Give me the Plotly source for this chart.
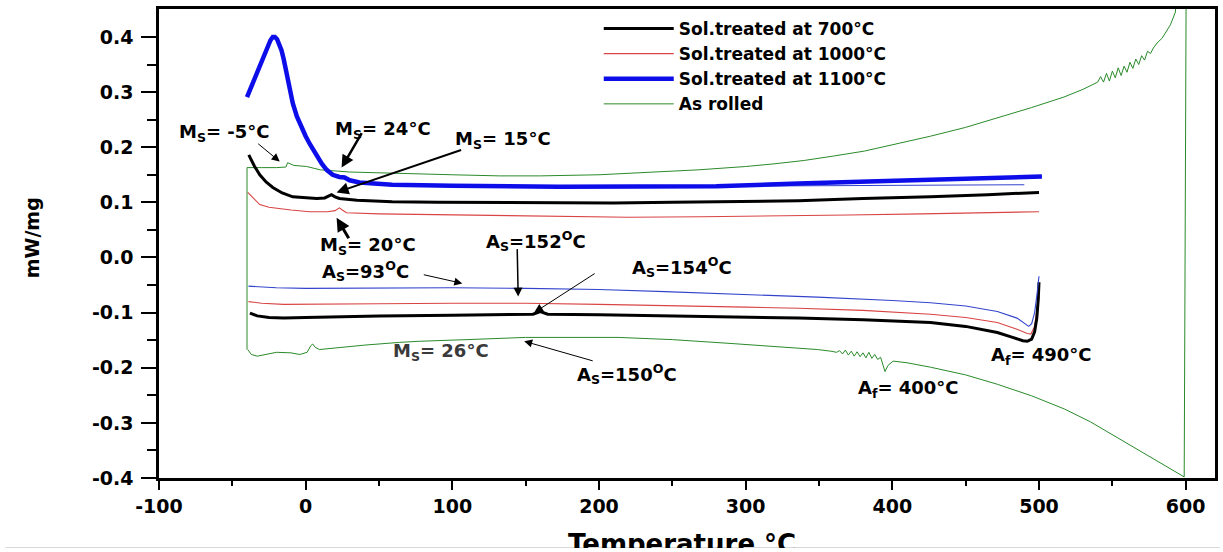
import plotly.graph_objects as go

# ---------------- data ----------------
# Sol. treated at 700 °C
T700_cool = [-38.8, -35, -31.3, -27, -22.4, -16, -8.8, 0, 7.5, 13, 17.6, 20, 23, 35, 59, 90, 127, 170, 210, 250, 290, 336, 380, 426, 465, 500]
Q700_cool = [0.186, 0.166, 0.150, 0.137, 0.127, 0.117, 0.110, 0.108, 0.107, 0.108, 0.114, 0.110, 0.107, 0.104, 0.101, 0.100, 0.0995, 0.099, 0.099, 0.100, 0.101, 0.103, 0.107, 0.110, 0.114, 0.118]
T700_heat = [-38, -33, -25, -15, 0, 25, 50, 100, 140, 155, 160, 165, 200, 250, 300, 336, 380, 426, 450, 471.6, 482, 489, 492, 495, 497, 498.5, 499.5, 500]
Q700_heat = [-0.101, -0.106, -0.109, -0.110, -0.109, -0.107, -0.106, -0.105, -0.103, -0.103, -0.098, -0.103, -0.104, -0.106, -0.109, -0.110, -0.113, -0.118, -0.125, -0.136, -0.145, -0.151, -0.152, -0.148, -0.135, -0.110, -0.075, -0.045]

# Sol. treated at 1000 °C
T1000_cool = [-39.5, -35, -31.3, -25, -20, -10, 2.7, 15, 20, 23, 25, 27.8, 50, 82, 130, 172.7, 220, 270, 320, 370, 420, 470, 500]
Q1000_cool = [0.118, 0.105, 0.096, 0.091, 0.089, 0.086, 0.083, 0.083, 0.085, 0.090, 0.086, 0.081, 0.079, 0.078, 0.076, 0.074, 0.073, 0.074, 0.075, 0.077, 0.079, 0.081, 0.083]
T1000_heat = [-39, -30, -15, 0, 50, 100, 150, 200, 250, 300, 336, 380, 426, 450, 471.6, 485, 492, 494.5, 497, 498.5, 500]
Q1000_heat = [-0.080, -0.083, -0.085, -0.085, -0.084, -0.083, -0.083, -0.085, -0.087, -0.090, -0.092, -0.096, -0.103, -0.109, -0.118, -0.130, -0.138, -0.139, -0.125, -0.100, -0.071]

# Sol. treated at 1100 °C
T1100_cool = [-40, -36, -31.3, -28, -26, -24, -22.4, -21, -19.5, -18, -16.5, -15, -13, -11, -8.8, -6, -3, 0, 3, 7.5, 11, 14.3, 18.4, 23, 26.5, 30, 36.7, 59, 100, 172.7, 230, 280, 336, 380, 426, 465, 502]
Q1100_cool = [0.291, 0.318, 0.346, 0.367, 0.382, 0.394, 0.400, 0.400, 0.396, 0.388, 0.376, 0.360, 0.335, 0.308, 0.280, 0.256, 0.236, 0.220, 0.205, 0.183, 0.170, 0.159, 0.150, 0.146, 0.145, 0.140, 0.136, 0.132, 0.130, 0.1285, 0.128, 0.129, 0.134, 0.137, 0.140, 0.143, 0.147]
T1100_cool_thin = [36, 100, 200, 300, 400, 490]
Q1100_cool_thin = [0.133, 0.130, 0.128, 0.129, 0.131, 0.132]
T1100_heat = [-39, -20, 0, 50, 100, 150, 200, 245, 300, 349, 400, 426, 450, 471.6, 485, 493, 495, 497, 498.5, 500]
Q1100_heat = [-0.052, -0.055, -0.056, -0.055, -0.055, -0.056, -0.058, -0.062, -0.067, -0.072, -0.078, -0.082, -0.088, -0.098, -0.110, -0.125, -0.120, -0.100, -0.070, -0.034]

# As rolled (heating branch, jump at 600 °C, cooling branch, jump at -40 °C)
T_rolled = [-39.5, -37, -33, -27, -19.8, -10, -4, 1, 3.5, 4.8, 6.5, 9.4, 20, 40, 64, 77.5, 110, 150, 213, 250, 290, 336, 349, 358,
            362, 364, 366, 368, 370, 372, 374, 376, 378, 380, 382, 384, 386, 388, 390, 392, 395, 397, 400.5, 410, 426, 450, 471.6,
            495, 517.5, 535, 551.7, 565, 585.7, 599,
            600.5, 596, 593, 589.6, 584, 580.5, 578, 576, 574, 572, 570, 568, 566, 564, 562, 560, 558, 556, 554, 552, 550, 548,
            546, 544, 542, 540, 530, 517, 495, 471.6, 450, 426, 400, 381, 360, 340, 320, 300, 268, 230, 200, 160, 132, 100, 64, 30,
            10, 0.7, -8, -11, -12.3, -13.5, -20, -30, -40, -40]
Q_rolled = [-0.167, -0.176, -0.179, -0.176, -0.172, -0.173, -0.176, -0.172, -0.160, -0.157, -0.163, -0.167, -0.164, -0.159, -0.154, -0.152, -0.149, -0.145, -0.145, -0.149, -0.156, -0.164, -0.167, -0.170,
            -0.172, -0.169, -0.175, -0.168, -0.177, -0.170, -0.179, -0.171, -0.180, -0.173, -0.182, -0.172, -0.183, -0.176, -0.185, -0.181, -0.207, -0.196, -0.188, -0.191, -0.199, -0.213, -0.230,
            -0.251, -0.275, -0.298, -0.324, -0.345, -0.378, -0.398,
            0.600, 0.600, 0.445, 0.422, 0.398, 0.389, 0.380, 0.370, 0.374, 0.358, 0.366, 0.350, 0.360, 0.343, 0.354, 0.336, 0.347, 0.330, 0.344, 0.326, 0.338, 0.320,
            0.334, 0.318, 0.328, 0.318, 0.305, 0.291, 0.272, 0.253, 0.236, 0.220, 0.204, 0.193, 0.184, 0.176, 0.170, 0.165, 0.159, 0.154, 0.150, 0.148, 0.148, 0.150, 0.153, 0.155,
            0.159, 0.165, 0.167, 0.170, 0.172, 0.164, 0.163, 0.163, 0.163, -0.167]

SERIES_NAMES = ["Sol.treated at 700°C", "Sol.treated at 1000°C", "Sol.treated at 1100°C", "As rolled"]

X_TICKS = [-100, 0, 100, 200, 300, 400, 500, 600]
X_TICKTEXT = ["-100", "0", "100", "200", "300", "400", "500", "600"]
X_MINOR = [-50, 50, 150, 250, 350, 450, 550]
Y_TICKS = [-0.4, -0.3, -0.2, -0.1, 0.0, 0.1, 0.2, 0.3, 0.4]
Y_TICKTEXT = ["-0.4", "-0.3", "-0.2", "-0.1", "0.0", "0.1", "0.2", "0.3", "0.4"]
Y_MINOR = [-0.35, -0.25, -0.15, -0.05, 0.05, 0.15, 0.25, 0.35]

LABELS = ["M<sub>S</sub>= -5°C", "M<sub>S</sub>= 24°C", "M<sub>S</sub>= 15°C", "M<sub>S</sub>= 20°C",
          "A<sub>S</sub>=152<sup>O</sup>C", "A<sub>S</sub>=93<sup>O</sup>C", "A<sub>S</sub>=154<sup>O</sup>C",
          "M<sub>S</sub>= 26°C", "A<sub>S</sub>=150<sup>O</sup>C", "A<sub>f</sub>= 490°C", "A<sub>f</sub>= 400°C"]
LABEL_T = [-55.1, 52.4, 134.7, 42.2, 157.1, 40.8, 256.5, 92.5, 219.0, 502.0, 411.0]
LABEL_Q = [0.226, 0.232, 0.214, 0.020, 0.029, -0.025, -0.018, -0.172, -0.212, -0.179, -0.239]

ARROW_T = [-17.7, 24.5, 21.1, 21.1, 144.9, 106.8, 155.8, 149.0]
ARROW_Q = [0.174, 0.163, 0.118, 0.072, -0.071, -0.047, -0.100, -0.152]

for a, b in [(T700_cool, Q700_cool), (T700_heat, Q700_heat), (T1000_cool, Q1000_cool), (T1000_heat, Q1000_heat),
             (T1100_cool, Q1100_cool), (T1100_cool_thin, Q1100_cool_thin), (T1100_heat, Q1100_heat), (T_rolled, Q_rolled)]:
    assert len(a) == len(b), (len(a), len(b))

# ---------------- figure ----------------
BLACK = "#000000"
RED = "#d94444"
BLUE = "#0d0dea"
BLUE_THIN = "#3344cc"
GREEN = "#2a8a2a"
FONT = "DejaVu Sans"

W, H = 1223, 548
L, R, T, B = 159, 5, 9, H - 478
PW, PH = W - L - R, H - T - B

fig = go.Figure()

fig.add_trace(go.Scatter(x=T_rolled, y=Q_rolled, mode="lines", name=SERIES_NAMES[3],
                         line=dict(color=GREEN, width=1), legendrank=4))
fig.add_trace(go.Scatter(x=T1000_cool + [None] + T1000_heat, y=Q1000_cool + [None] + Q1000_heat,
                         mode="lines", name=SERIES_NAMES[1], line=dict(color=RED, width=1.1), legendrank=2))
fig.add_trace(go.Scatter(x=T700_cool + [None] + T700_heat, y=Q700_cool + [None] + Q700_heat,
                         mode="lines", name=SERIES_NAMES[0], line=dict(color=BLACK, width=3), legendrank=1))
fig.add_trace(go.Scatter(x=T1100_cool_thin + [None] + T1100_heat, y=Q1100_cool_thin + [None] + Q1100_heat,
                         mode="lines", name=SERIES_NAMES[2], line=dict(color=BLUE_THIN, width=1.1),
                         showlegend=False))
fig.add_trace(go.Scatter(x=T1100_cool, y=Q1100_cool, mode="lines", name=SERIES_NAMES[2],
                         line=dict(color=BLUE, width=4.5), legendrank=3))

ann = []
for i, txt in enumerate(LABELS):
    col = "#3a3a3a" if "26" in txt else "black"
    ann.append(dict(x=LABEL_T[i], y=LABEL_Q[i], xref="x", yref="y", text=txt, showarrow=False,
                    font=dict(family=FONT, size=18, color=col, weight="bold")))

arrow_style = [  # ax, ay (px offset of tail), width, head size
    (-23, -19, 1.0, 1.6),
    (21, -36, 2.5, 1.0),
    (126, -43, 2.0, 1.2),
    (13, 22, 3.0, 0.9),
    (-1, -49, 1.5, 1.2),
    (-40, -9, 1.0, 1.6),
    (62, -40, 1.0, 1.8),
    (70, 20, 1.0, 1.6),
]
for i, (ax, ay, w, s) in enumerate(arrow_style):
    ann.append(dict(x=ARROW_T[i], y=ARROW_Q[i], xref="x", yref="y", text="", showarrow=True,
                    ax=ax, ay=ay, arrowhead=2, arrowwidth=w, arrowsize=s, arrowcolor="black",
                    standoff=0))

# x-axis title (cut at the bottom edge, as in the reference)
ann.append(dict(x=(683 - L) / PW, y=-(544 - (T + PH)) / PH, xref="paper", yref="paper",
                xanchor="center", yanchor="middle",
                text="Temperature °C", showarrow=False,
                font=dict(family=FONT, size=26, color="black", weight="bold")))
# y-axis title
ann.append(dict(x=-(L - 32) / PW, y=((T + PH) - 238) / PH, xref="paper", yref="paper",
                xanchor="center", yanchor="middle",
                text="mW/mg", textangle=-90, showarrow=False,
                font=dict(family=FONT, size=19, color="black", weight="bold")))

fig.update_layout(
    width=W, height=H,
    margin=dict(l=L, r=R, t=T, b=B),
    paper_bgcolor="white", plot_bgcolor="white",
    showlegend=True,
    legend=dict(x=(600 - L) / PW, y=1 - (11 - T) / PH, xanchor="left", yanchor="top",
                bgcolor="rgba(0,0,0,0)", borderwidth=0, tracegroupgap=0, itemwidth=70,
                font=dict(family=FONT, size=17, color="black", weight="bold")),
    annotations=ann,
    shapes=[dict(type="line", xref="paper", yref="paper", x0=-(L - 5) / PW, x1=1 + R / PW,
                 y0=-(547.5 - (T + PH)) / PH, y1=-(547.5 - (T + PH)) / PH,
                 line=dict(color="#d8d8d8", width=1))],
)
fig.update_xaxes(range=[-100, 620], tickmode="array", tickvals=X_TICKS, ticktext=X_TICKTEXT,
                 ticks="outside", ticklen=9, tickwidth=2, tickcolor="black",
                 showline=True, linecolor="black", linewidth=2.5, mirror=True,
                 showgrid=False, zeroline=False,
                 tickfont=dict(family=FONT, size=19, color="black", weight="bold"),
                 minor=dict(tickmode="array", tickvals=X_MINOR, ticks="outside", ticklen=5,
                            tickwidth=2, tickcolor="black", showgrid=False))
fig.update_yaxes(range=[-0.4, 0.4507], tickmode="array", tickvals=Y_TICKS, ticktext=Y_TICKTEXT,
                 ticks="outside", ticklen=15, tickwidth=2, tickcolor="black",
                 showline=True, linecolor="black", linewidth=2.5, mirror=True,
                 showgrid=False, zeroline=False, ticklabelstandoff=4,
                 tickfont=dict(family=FONT, size=19, color="black", weight="bold"),
                 minor=dict(tickmode="array", tickvals=Y_MINOR, ticks="outside", ticklen=9,
                            tickwidth=2, tickcolor="black", showgrid=False))

fig.write_html("out.html", config={"displayModeBar": False},
               post_script="document.body.style.margin='0px';document.body.style.overflow='hidden';")
